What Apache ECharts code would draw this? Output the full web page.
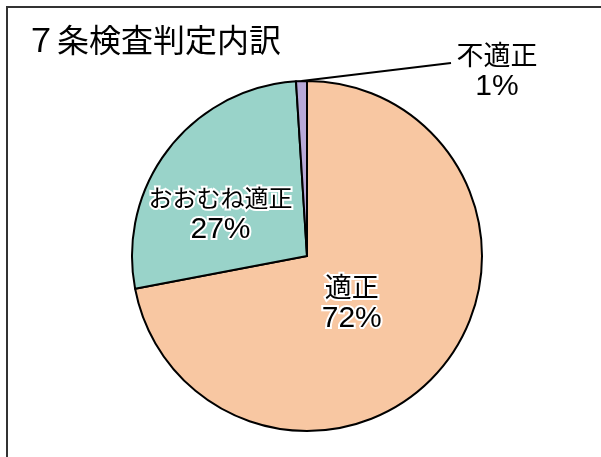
<!DOCTYPE html>
<html>
<head>
<meta charset="utf-8">
<script src="https://cdn.jsdelivr.net/npm/echarts@6/dist/echarts.min.js"></script>
<style>
  html, body { margin: 0; padding: 0; background: #fff; }
  #chart { width: 601px; height: 457px; }
</style>
</head>
<body>
<div id="chart"></div>
<script>
// データ
const categories = ['適正', 'おおむね適正', '不適正'];
const values = [72, 27, 1];
const titleText = '７条検査判定内訳';

// 色・ラベルの大きさ
const sliceColors = ['#F8C7A2', '#99D3C9', '#B8A9D8'];
const nameSizes = [27, 24, 27];

const chart = echarts.init(document.getElementById('chart'));

function richFor(i) {
  const outline = i === 2 ? 0 : 4;
  return {
    n: {
      fontFamily: 'Noto Sans CJK JP',
      fontSize: nameSizes[i],
      lineHeight: 32,
      color: '#000',
      textBorderColor: '#fff',
      textBorderWidth: outline
    },
    p: {
      fontFamily: 'Liberation Sans',
      fontSize: 30,
      lineHeight: 32,
      color: '#000',
      textBorderColor: '#fff',
      textBorderWidth: outline
    }
  };
}

const pieData = categories.map((name, i) => {
  const item = {
    name: name,
    value: values[i],
    itemStyle: { color: sliceColors[i] },
    label: { rich: richFor(i) }
  };
  // 不適正だけ外側ラベル
  if (i === 2) {
    item.label.position = 'outside';
    item.labelLine = { show: true };
  }
  return item;
});

const option = {
  backgroundColor: '#fff',
  animation: false,
  title: {
    text: titleText,
    left: 20,
    top: 19,
    textStyle: {
      fontFamily: 'Noto Sans CJK JP',
      fontSize: 32,
      fontWeight: 'normal',
      color: '#000'
    }
  },
  graphic: [
    {
      type: 'rect',
      shape: { x: 7, y: 7, width: 700, height: 600 },
      style: { fill: 'none', stroke: '#333', lineWidth: 2 },
      silent: true
    }
  ],
  series: [
    {
      type: 'pie',
      center: [307, 256],
      radius: 175,
      startAngle: 90,
      clockwise: true,
      avoidLabelOverlap: false,
      itemStyle: {
        borderColor: '#000',
        borderWidth: 2
      },
      label: {
        show: true,
        position: 'inside',
        formatter: '{n|{b}}\n{p|{d}%}'
      },
      labelLine: {
        show: false,
        lineStyle: { color: '#000', width: 2 }
      },
      // ラベル位置の微調整
      labelLayout: function (params) {
        if (params.dataIndex === 0) return { dx: -25, dy: -11 };
        if (params.dataIndex === 1) return { dx: -15, dy: 13 };
        const pts = params.labelLinePoints;
        const res = { x: 497, y: 71, align: 'center', verticalAlign: 'middle' };
        if (pts) res.labelLinePoints = [pts[0], [451, 63]];
        return res;
      },
      data: pieData
    }
  ]
};

chart.setOption(option);
</script>
</body>
</html>
